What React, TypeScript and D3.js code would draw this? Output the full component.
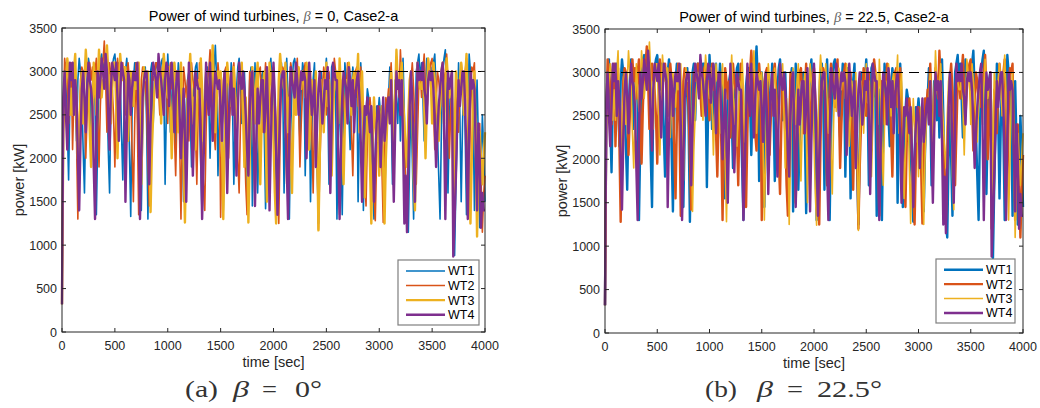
import React from "react";
import * as d3 from "d3";

const TIME: number[] = d3.range(0, 4000.1, 12.5);
const X_TICKS = [0, 500, 1000, 1500, 2000, 2500, 3000, 3500, 4000];
const Y_TICKS = [0, 500, 1000, 1500, 2000, 2500, 3000, 3500];
const RATED = 3000;
const NAMES = ["WT1", "WT2", "WT3", "WT4"];
const COLORS = ["#0072BD", "#D95319", "#EDB120", "#7E2F8E"];

// Panel (a) beta = 0 (one value every 12.5 s)
const A_WT1 = [
  320, 2600, 2900, 3100, 2400, 1750, 2700, 3050, 2950, 3100, 2800, 2200, 2900, 3150, 3000, 2700,
  2100, 1600, 2500, 2900, 3150, 3050, 2300, 2800, 3000, 2600, 1350, 2200, 2900, 3150, 3200, 3000,
  3100, 2950, 2800, 2100, 1600, 2700, 3050, 3150, 3200, 3000, 2850, 3100, 2950, 2300, 1750, 2600,
  3000, 3150, 2900, 2100, 1330, 2500, 2900, 3100, 3100, 2900, 2600, 2000, 1400, 2300, 2900, 3050,
  2400, 1300, 2200, 3000, 3100, 2400, 2900, 3100, 3050, 2950, 2900, 3100, 3150, 2800, 1700, 2600,
  3200, 2900, 2300, 2700, 3000, 3100, 2100, 2800, 3100, 2950, 2700, 2200, 1500, 2100, 2600, 2900,
  3000, 2500, 1900, 2600, 2900, 3050, 3100, 2800, 2500, 1900, 1320, 2200, 2800, 3000, 3050, 2700,
  2000, 2600, 3150, 3000, 3300, 2900, 1800, 2500, 3000, 2400, 1400, 2300, 2900, 3000, 2300, 2700,
  3100, 2600, 1700, 2400, 2800, 3050, 3150, 2900, 2400, 2800, 3000, 2500, 1500, 2200, 2900, 3050,
  1450, 2300, 3100, 2600, 1600, 2200, 2700, 2950, 3000, 2300, 1420, 2000, 2600, 3000, 3150, 2800,
  2900, 2200, 1300, 2100, 2700, 3000, 3100, 2800, 1600, 2500, 3150, 2700, 1300, 2300, 2800, 3100,
  3150, 3000, 2900, 2600, 2200, 2800, 3100, 3000, 1800, 2600, 3050, 2700, 1500, 2300, 2900, 3100,
  2300, 1900, 1250, 2200, 3000, 2800, 2600, 2900, 3150, 2700, 1700, 2500, 3050, 3100, 2900, 2700,
  1300, 2200, 2800, 2100, 1350, 2400, 3100, 2900, 2900, 2500, 2100, 2800, 3050, 2900, 2700, 3000,
  1500, 2400, 3100, 2700, 1400, 2200, 2500, 2800, 2700, 2400, 2000, 1700, 1300, 2000, 2600, 2500,
  2700, 2500, 2200, 1800, 1400, 2100, 2500, 2700, 3050, 2600, 1700, 2300, 2900, 2700, 2400, 2900,
  2200, 2700, 3150, 2500, 1600, 1300, 1150, 2000, 2600, 2000, 1300, 2300, 3000, 3100, 3200, 2900,
  3100, 2700, 2200, 2800, 3150, 3000, 2900, 3050, 2800, 3100, 3200, 2800, 2300, 1800, 1300, 2300,
  3000, 3150, 3250, 2500, 1600, 2400, 2900, 3000, 2200, 880, 1700, 2300, 3100, 2500, 1500, 2400,
  3000, 2300, 1350, 2400, 3200, 3000, 2800, 2500, 1400, 2300, 2900, 2200, 1200, 1800, 2500, 2100,
  1500];
const A_WT2 = [
  320, 2500, 3150, 3000, 2900, 2400, 2900, 3100, 2100, 2700, 3050, 2200, 1300, 2300, 2900, 3050,
  3000, 2600, 2000, 2500, 2800, 3100, 2900, 3050, 2700, 3000, 3150, 2500, 1900, 2600, 3000, 3100,
  3350, 2900, 2300, 2800, 3100, 2950, 2800, 2500, 1900, 2600, 3150, 3000, 2900, 3050, 3100, 2800,
  2500, 2900, 3100, 2900, 2700, 2100, 1500, 2400, 3100, 2400, 1350, 2200, 2900, 3050, 3000, 2900,
  2600, 2000, 1450, 2300, 3000, 2900, 2950, 3100, 3100, 2800, 2500, 2900, 3050, 3100, 2800, 2900,
  2400, 2900, 3100, 2800, 2800, 2300, 1800, 2500, 2900, 2200, 1300, 2300, 3050, 2900, 2700, 2900,
  2200, 2700, 3100, 2900, 2800, 2300, 1700, 2500, 3100, 2600, 2100, 1700, 1400, 2300, 2900, 3000,
  3250, 3000, 2700, 2300, 2100, 2700, 3100, 2900, 1320, 2200, 2900, 3000, 3050, 2600, 2000, 2500,
  2800, 3000, 3100, 2800, 2500, 2000, 1600, 2400, 3000, 2700, 2300, 1700, 1350, 2300, 3000, 2900,
  2900, 2200, 1500, 2200, 2800, 3000, 3050, 2700, 2300, 2800, 3100, 2500, 1900, 2400, 2700, 3000,
  3050, 2700, 2400, 1800, 1250, 2200, 2900, 3050, 3000, 2300, 1700, 2400, 2800, 3100, 3000, 2800,
  2600, 2900, 3150, 2600, 1900, 2400, 2800, 3000, 3100, 2800, 2400, 2700, 3000, 2300, 1600, 2500,
  2900, 2100, 1180, 1900, 2400, 2800, 3050, 2900, 2500, 2800, 3000, 2600, 2100, 2700, 3150, 3000,
  2700, 2100, 1350, 2200, 2900, 2700, 2400, 2800, 3100, 2900, 2800, 2300, 1800, 2500, 3000, 3050,
  2600, 2900, 3050, 2600, 2200, 1800, 1450, 2200, 2400, 2700, 2500, 2000, 1600, 1280, 2000, 2500,
  2600, 2400, 1900, 1260, 2000, 2700, 2600, 2800, 2800, 3100, 2600, 2000, 2500, 3050, 2900, 2700,
  3250, 2900, 2500, 2100, 1800, 1300, 2000, 2600, 2900, 3100, 2800, 2400, 1700, 2300, 2900, 3000,
  2700, 3000, 3200, 2800, 2500, 2800, 3000, 3100, 3150, 2600, 2100, 2600, 3000, 2900, 2700, 2900,
  2600, 2900, 3000, 3200, 2800, 2000, 2500, 3000, 1200, 2000, 2800, 2500, 2300, 2800, 3100, 2900,
  2700, 3000, 3150, 2400, 1700, 2500, 3050, 3000, 3100, 2200, 1300, 2000, 2400, 1800, 1150, 1600,
  1800];
const A_WT3 = [
  320, 2300, 2700, 2900, 3150, 3000, 2500, 2800, 2500, 3000, 3200, 2600, 2000, 2400, 2700, 3000,
  2400, 2900, 3250, 3000, 2900, 2300, 1900, 2500, 3100, 2800, 2500, 2900, 3250, 3000, 2700, 2900,
  2900, 3100, 3300, 3000, 2700, 2400, 2800, 3100, 3100, 2600, 2000, 2700, 3200, 3000, 2900, 3050,
  3050, 2600, 2200, 2700, 3000, 2800, 2600, 2900, 2800, 3000, 3100, 2400, 1700, 2500, 3050, 2900,
  2900, 3000, 2300, 1380, 2100, 2500, 2800, 3000, 2800, 3100, 2900, 2400, 2900, 3200, 3000, 2800,
  2700, 3050, 2600, 2000, 2600, 3100, 2900, 3000, 2300, 2800, 3100, 2600, 2000, 1260, 2100, 2700,
  2900, 3200, 2800, 2400, 2700, 2100, 2500, 2900, 2700, 3150, 2800, 2200, 2600, 3000, 2900, 2800,
  2600, 3000, 3300, 2800, 2300, 2700, 3000, 2900, 3000, 2200, 1300, 2100, 2700, 3100, 2900, 2800,
  2600, 2900, 3050, 2600, 2200, 2700, 3000, 2900, 3100, 2500, 1900, 2700, 2300, 1260, 2000, 2700,
  3050, 2800, 2400, 2900, 3100, 2400, 1700, 2400, 2800, 3000, 2400, 1500, 2300, 3100, 2900, 2800,
  2200, 1600, 1250, 2100, 2900, 3200, 3000, 2900, 2800, 3100, 2700, 2300, 2700, 2100, 1600, 2400,
  3000, 2500, 2800, 3050, 2900, 2800, 3000, 2900, 2700, 3100, 2800, 2100, 2500, 2900, 2700, 2500,
  3000, 2200, 1170, 2000, 2900, 2700, 2300, 2700, 3100, 2600, 2900, 2500, 1800, 2400, 2900, 3000,
  3000, 2400, 3150, 2800, 2200, 1700, 2400, 2900, 2700, 3100, 2900, 2500, 2900, 3000, 2800, 2900,
  3200, 2300, 2800, 3000, 2400, 1550, 2100, 2600, 2600, 1900, 1250, 2100, 2700, 2400, 2200, 2500,
  1800, 2300, 2600, 1900, 1250, 2000, 2400, 2600, 2700, 3000, 2600, 2200, 2700, 3250, 2900, 2800,
  2900, 3100, 2700, 2400, 2100, 1900, 2500, 2900, 3000, 2500, 1800, 1400, 2300, 3100, 2900, 2800,
  2800, 3000, 2600, 2000, 2600, 3150, 3000, 2900, 2400, 3100, 2900, 2700, 2500, 2200, 2600, 3000,
  3100, 2400, 2800, 3150, 2900, 2700, 2800, 3000, 1300, 2200, 3000, 2800, 2600, 2900, 3100, 2900,
  2500, 2900, 3200, 2700, 2000, 1250, 2000, 2700, 3000, 2200, 1100, 1800, 2300, 2000, 1700, 2000,
  2300];
const A_WT4 = [
  320, 2700, 3000, 2500, 2100, 2600, 3100, 2900, 3100, 2500, 2900, 2700, 2000, 1400, 2200, 2800,
  3000, 2700, 2300, 2800, 3100, 2900, 2800, 2600, 1900, 1300, 2300, 3000, 2700, 2900, 3150, 3000,
  2800, 3200, 3000, 2500, 2100, 2800, 3100, 3000, 2900, 3100, 2700, 2200, 2700, 3100, 3000, 2900,
  1500, 2300, 3000, 2900, 2500, 2800, 3000, 2900, 2900, 3100, 2400, 1300, 2000, 2700, 2900, 3000,
  3000, 2500, 1700, 2400, 2800, 3100, 3000, 2900, 2700, 3200, 3000, 2900, 2700, 2500, 2900, 3100,
  3050, 2600, 2900, 3100, 2800, 2300, 2700, 3000, 3000, 2500, 2000, 2400, 2800, 2200, 1500, 2300,
  3100, 2700, 2400, 1800, 2400, 3000, 2900, 2800, 2800, 2200, 1300, 1900, 2500, 3100, 2700, 2500,
  3100, 2600, 2200, 2700, 3000, 2900, 2800, 2900, 2600, 2200, 2700, 3000, 2500, 1600, 2300, 2800,
  3000, 2500, 2800, 2300, 1800, 2500, 3100, 2900, 2800, 3000, 2800, 2500, 2100, 1800, 2500, 2900,
  3000, 2300, 1450, 2200, 2800, 2400, 2700, 2900, 2900, 2300, 2600, 3050, 2400, 1400, 2200, 2800,
  3100, 2700, 2100, 1350, 2000, 2600, 2900, 3000, 3000, 2400, 1900, 1300, 2200, 3050, 2900, 2800,
  2700, 3100, 2900, 2500, 2800, 3000, 2900, 3000, 2900, 2000, 2600, 3100, 2800, 2500, 2700, 2900,
  1900, 2400, 2800, 3000, 2700, 2400, 2600, 2900, 2800, 3050, 2500, 1600, 2400, 3100, 3000, 2900,
  2900, 2000, 1300, 2100, 2700, 3000, 2900, 2800, 2400, 3050, 2900, 2600, 2900, 2300, 2700, 2900,
  3000, 2700, 2200, 1500, 2100, 2600, 2500, 2700, 2500, 2300, 2600, 2100, 1500, 2000, 2400, 2600,
  2500, 1900, 2300, 2700, 2200, 2400, 2600, 2700, 2400, 2900, 2200, 1500, 2300, 3000, 2800, 2900,
  2500, 2900, 2200, 1250, 1800, 1150, 1900, 2600, 3000, 2700, 2100, 1500, 2400, 3100, 2900, 3000,
  2900, 3100, 2800, 2700, 2400, 2900, 3000, 2900, 3000, 2800, 2400, 1900, 2300, 2600, 2800, 3000,
  3100, 2400, 1300, 2200, 3000, 2800, 2900, 3000, 870, 1300, 1800, 2400, 2900, 2600, 2800, 3000,
  3000, 2600, 2000, 1300, 2300, 3000, 2800, 2900, 2800, 2100, 1400, 2400, 2000, 1200, 1600, 1400,
  1400];

// Panel (b) beta = 22.5 (one value every 12.5 s)
const B_WT1 = [
  320, 2550, 2950, 3150, 2450, 1850, 2700, 3050, 2950, 3100, 2850, 2150, 2900, 3150, 3000, 2700,
  2150, 1650, 2500, 2900, 3150, 3050, 2350, 2800, 3000, 2600, 1300, 2200, 2950, 3150, 3200, 3000,
  3150, 2950, 2800, 2050, 1450, 2700, 3050, 3150, 3200, 3000, 2800, 3100, 2950, 2300, 1800, 2600,
  3000, 3150, 2900, 2100, 1400, 2500, 2900, 3100, 3050, 2900, 2600, 2000, 1450, 2300, 2950, 3050,
  2400, 1280, 2200, 3000, 3100, 2450, 2900, 3100, 3050, 2950, 2950, 3100, 3100, 2800, 1680, 2600,
  3200, 2900, 2350, 2700, 3000, 3100, 2150, 2800, 3100, 2950, 2700, 2200, 1550, 2100, 2650, 2900,
  3000, 2500, 1900, 2600, 2900, 3050, 3100, 2800, 2500, 1900, 1300, 2200, 2850, 3000, 3050, 2700,
  2050, 2600, 3150, 3000, 3300, 2900, 1750, 2500, 3000, 2400, 1450, 2300, 2900, 3000, 2300, 2700,
  3100, 2600, 1750, 2400, 2800, 3050, 3150, 2900, 2450, 2800, 3000, 2500, 1550, 2200, 2900, 3050,
  1400, 2300, 3100, 2600, 1650, 2200, 2700, 2950, 3000, 2300, 1380, 2000, 2650, 3000, 3150, 2800,
  2900, 2200, 1300, 2100, 2700, 3000, 3100, 2800, 1650, 2500, 3150, 2700, 1300, 2300, 2850, 3100,
  3150, 3000, 2900, 2600, 2250, 2800, 3100, 3000, 1800, 2600, 3050, 2700, 1550, 2300, 2900, 3100,
  2300, 1900, 1250, 2200, 3000, 2800, 2650, 2900, 3150, 2700, 1700, 2500, 3050, 3100, 2900, 2700,
  1350, 2200, 2800, 2100, 1300, 2400, 3100, 2900, 2900, 2500, 2150, 2800, 3050, 2900, 2700, 3000,
  1500, 2400, 3100, 2700, 1450, 2200, 2550, 2800, 2700, 2400, 2000, 1700, 1280, 2000, 2600, 2500,
  2700, 2500, 2250, 1800, 1400, 2100, 2500, 2700, 3050, 2600, 1700, 2300, 2900, 2700, 2450, 2900,
  2250, 2700, 3150, 2500, 1650, 1300, 1100, 2000, 2600, 2000, 1350, 2300, 3000, 3100, 3200, 2900,
  3100, 2700, 2250, 2800, 3150, 3000, 2900, 3050, 2800, 3100, 3250, 2800, 2300, 1800, 1300, 2300,
  3000, 3150, 3250, 2500, 1600, 2400, 2900, 3000, 2200, 860, 1700, 2350, 3100, 2500, 1550, 2400,
  3000, 2300, 1300, 2400, 3200, 3000, 2800, 2500, 1350, 2300, 2900, 2200, 1250, 1800, 2500, 2100,
  1450];
const B_WT2 = [
  320, 2450, 3150, 3000, 2850, 2400, 2900, 3100, 2150, 2700, 3050, 2200, 1280, 2300, 2900, 3050,
  3000, 2600, 2050, 2500, 2800, 3150, 2900, 3050, 2700, 3000, 3150, 2500, 1950, 2600, 3000, 3100,
  3300, 2900, 2350, 2800, 3100, 2950, 2800, 2500, 1950, 2600, 3150, 3000, 2900, 3050, 3100, 2800,
  2500, 2900, 3100, 2900, 2750, 2100, 1550, 2400, 3100, 2400, 1350, 2200, 2900, 3050, 3000, 2900,
  2600, 2000, 1420, 2300, 3000, 2900, 2950, 3100, 3100, 2800, 2500, 2900, 3050, 3100, 2800, 2900,
  2450, 2900, 3100, 2800, 2800, 2300, 1800, 2500, 2900, 2200, 1300, 2300, 3050, 2900, 2700, 2900,
  2250, 2700, 3100, 2900, 2800, 2300, 1700, 2500, 3100, 2600, 2150, 1700, 1450, 2300, 2900, 3000,
  3250, 3000, 2700, 2300, 2100, 2700, 3100, 2900, 1300, 2200, 2900, 3000, 3050, 2600, 2050, 2500,
  2800, 3000, 3100, 2800, 2500, 2000, 1600, 2400, 3000, 2700, 2300, 1700, 1350, 2300, 3000, 2900,
  2900, 2200, 1500, 2200, 2800, 3000, 3050, 2700, 2300, 2800, 3100, 2500, 1900, 2400, 2700, 3000,
  3050, 2700, 2400, 1800, 1250, 2200, 2900, 3050, 3000, 2300, 1700, 2400, 2800, 3100, 3000, 2800,
  2600, 2900, 3150, 2600, 1900, 2400, 2800, 3000, 3100, 2800, 2400, 2700, 3000, 2300, 1650, 2500,
  2900, 2100, 1200, 1900, 2400, 2800, 3050, 2900, 2500, 2800, 3000, 2600, 2100, 2700, 3150, 3000,
  2700, 2100, 1350, 2200, 2900, 2700, 2400, 2800, 3100, 2900, 2800, 2300, 1800, 2500, 3000, 3050,
  2600, 2900, 3050, 2600, 2200, 1800, 1450, 2200, 2400, 2700, 2500, 2000, 1600, 1250, 2000, 2500,
  2600, 2400, 1900, 1260, 2000, 2700, 2600, 2800, 2800, 3100, 2600, 2000, 2500, 3050, 2900, 2700,
  3250, 2900, 2500, 2100, 1800, 1300, 2000, 2600, 2900, 3100, 2800, 2400, 1700, 2300, 2900, 3000,
  2700, 3000, 3200, 2800, 2500, 2800, 3000, 3100, 3150, 2600, 2100, 2600, 3000, 2900, 2700, 2900,
  2600, 2900, 3000, 3200, 2800, 2000, 2500, 3000, 1200, 2000, 2800, 2500, 2300, 2800, 3100, 2900,
  2700, 3000, 3150, 2400, 1700, 2500, 3050, 3000, 3100, 2200, 1300, 2000, 2400, 1800, 1100, 1600,
  2050];
const B_WT3 = [
  320, 2350, 2700, 2900, 3100, 3000, 2450, 2800, 2450, 3000, 3250, 2600, 2050, 2400, 2700, 3000,
  2400, 2900, 3250, 3000, 2850, 2300, 1900, 2500, 3100, 2800, 2550, 2900, 3250, 3000, 2700, 2900,
  2900, 3100, 3350, 3000, 2700, 2350, 2800, 3100, 3100, 2600, 2050, 2700, 3200, 3000, 2900, 3050,
  3050, 2600, 2250, 2700, 3000, 2800, 2600, 2900, 2800, 3000, 3100, 2400, 1750, 2500, 3050, 2900,
  2900, 3000, 2300, 1400, 2100, 2500, 2800, 3000, 2800, 3100, 2900, 2450, 2900, 3200, 3000, 2800,
  2700, 3050, 2600, 2050, 2600, 3100, 2900, 3000, 2300, 2800, 3100, 2600, 2000, 1280, 2100, 2700,
  2900, 3200, 2800, 2400, 2700, 2150, 2500, 2900, 2700, 3150, 2800, 2200, 2600, 3000, 2900, 2800,
  2600, 3000, 3250, 2800, 2300, 2700, 3000, 2900, 3000, 2200, 1300, 2100, 2700, 3100, 2900, 2800,
  2650, 2900, 3050, 2600, 2200, 2700, 3000, 2900, 3100, 2500, 1900, 2700, 2300, 1250, 2000, 2700,
  3050, 2800, 2400, 2900, 3100, 2400, 1750, 2400, 2800, 3000, 2400, 1500, 2300, 3100, 2900, 2800,
  2200, 1600, 1240, 2100, 2900, 3200, 3000, 2900, 2800, 3100, 2700, 2300, 2700, 2100, 1600, 2400,
  3000, 2550, 2800, 3050, 2900, 2800, 3000, 2900, 2700, 3100, 2800, 2150, 2500, 2900, 2700, 2500,
  3000, 2200, 1180, 2000, 2900, 2700, 2300, 2700, 3100, 2650, 2900, 2500, 1800, 2400, 2900, 3000,
  3000, 2400, 3150, 2800, 2200, 1700, 2400, 2900, 2700, 3100, 2900, 2500, 2900, 3000, 2800, 2900,
  3200, 2300, 2800, 3000, 2400, 1550, 2100, 2600, 2600, 1900, 1260, 2100, 2700, 2400, 2200, 2500,
  1800, 2300, 2600, 1900, 1250, 2000, 2450, 2600, 2700, 3000, 2600, 2200, 2700, 3250, 2900, 2800,
  2900, 3100, 2700, 2400, 2100, 1900, 2500, 2900, 3000, 2500, 1800, 1420, 2300, 3100, 2900, 2800,
  2800, 3000, 2600, 2050, 2600, 3150, 3000, 2900, 2400, 3100, 2900, 2700, 2500, 2200, 2600, 3000,
  3100, 2400, 2800, 3150, 2900, 2700, 2800, 3000, 1300, 2200, 3000, 2800, 2600, 2900, 3100, 2900,
  2500, 2900, 3200, 2700, 2000, 1300, 2000, 2700, 3000, 2200, 1100, 1800, 2300, 2000, 1700, 2000,
  2300];
const B_WT4 = [
  320, 2650, 3000, 2500, 2150, 2600, 3100, 2900, 3100, 2500, 2900, 2700, 2000, 1420, 2200, 2800,
  3000, 2700, 2300, 2800, 3100, 2900, 2800, 2600, 1900, 1300, 2300, 3000, 2700, 2900, 3150, 3000,
  2800, 3250, 3000, 2500, 2100, 2800, 3100, 3000, 2900, 3100, 2700, 2250, 2700, 3100, 3000, 2900,
  1450, 2300, 3000, 2900, 2500, 2800, 3000, 2900, 2900, 3100, 2400, 1300, 2000, 2700, 2900, 3000,
  3000, 2500, 1700, 2400, 2800, 3100, 3000, 2900, 2700, 3200, 3000, 2900, 2700, 2500, 2900, 3100,
  3050, 2650, 2900, 3100, 2800, 2300, 2700, 3000, 3000, 2500, 2000, 2400, 2800, 2200, 1500, 2300,
  3100, 2700, 2400, 1850, 2400, 3000, 2900, 2800, 2800, 2200, 1300, 1900, 2500, 3100, 2700, 2500,
  3100, 2600, 2250, 2700, 3000, 2900, 2800, 2900, 2600, 2200, 2700, 3000, 2500, 1600, 2300, 2800,
  3000, 2500, 2800, 2300, 1800, 2500, 3100, 2900, 2800, 3000, 2800, 2500, 2100, 1800, 2500, 2900,
  3000, 2300, 1450, 2200, 2800, 2400, 2700, 2900, 2900, 2300, 2600, 3050, 2400, 1400, 2200, 2800,
  3100, 2700, 2100, 1350, 2000, 2600, 2900, 3000, 3000, 2400, 1900, 1300, 2200, 3050, 2900, 2800,
  2700, 3100, 2900, 2500, 2800, 3000, 2900, 3000, 2900, 2050, 2600, 3100, 2800, 2500, 2700, 2900,
  1900, 2400, 2800, 3000, 2700, 2400, 2600, 2900, 2800, 3050, 2500, 1600, 2400, 3100, 3000, 2900,
  2900, 2000, 1300, 2100, 2700, 3000, 2900, 2800, 2400, 3050, 2900, 2600, 2900, 2300, 2700, 2900,
  3000, 2700, 2200, 1500, 2100, 2600, 2500, 2700, 2500, 2300, 2600, 2100, 1450, 2000, 2400, 2600,
  2500, 1900, 2300, 2700, 2200, 2400, 2600, 2700, 2400, 2900, 2200, 1500, 2300, 3000, 2800, 2900,
  2500, 2900, 2200, 1250, 1800, 1150, 1900, 2600, 3000, 2700, 2100, 1500, 2400, 3100, 2900, 3000,
  2900, 3100, 2800, 2700, 2400, 2900, 3000, 2900, 3000, 2800, 2400, 1900, 2300, 2600, 2800, 3000,
  3100, 2400, 1300, 2200, 3000, 2800, 2900, 3000, 880, 1300, 1800, 2400, 2900, 2600, 2800, 3000,
  3000, 2600, 2000, 1300, 2300, 3000, 2800, 2900, 2800, 2100, 1400, 2400, 2000, 1200, 1600, 1350,
  1350];

type Piece = { s: string; x0: number; x1: number; italic?: boolean };

const CAPTION_A: Piece[] = [
  { s: "(a)", x0: 185, x1: 218 },
  { s: "β", x0: 233, x1: 249, italic: true },
  { s: "=", x0: 262, x1: 277 },
  { s: "0°", x0: 295, x1: 322 },
];
const CAPTION_B: Piece[] = [
  { s: "(b)", x0: 705, x1: 737 },
  { s: "β", x0: 757, x1: 773, italic: true },
  { s: "=", x0: 787, x1: 803 },
  { s: "22.5°", x0: 817, x1: 882 },
];

type PanelProps = {
  left: number; right: number; top: number; bottom: number;
  betaText: string; caption: Piece[];
  series: number[][]; widths: number[];
  legend: { x: number; y: number; w: number; h: number };
};

const FONT = "Liberation Sans, Arial, Helvetica, sans-serif";
const SERIF = "Liberation Serif, Times New Roman, serif";
const AXIS = "#262626";

function Panel(p: PanelProps) {
  const x = d3.scaleLinear().domain([0, 4000]).range([p.left, p.right]);
  const y = d3.scaleLinear().domain([0, 3500]).range([p.bottom, p.top]);
  const line = d3.line<number>().x((_, i) => x(TIME[i])).y((d) => y(d));
  const cx = (p.left + p.right) / 2;
  const cy = (p.top + p.bottom) / 2;
  const tl = 4;
  const L = p.legend;
  const rowH = L.h / 4.45;
  return (
    <g>
      {p.series.map((s, k) => (
        <path key={k} d={line(s) || ""} fill="none" stroke={COLORS[k]} strokeWidth={p.widths[k]} strokeLinejoin="round" />
      ))}
      <line x1={x(0)} x2={x(4000)} y1={y(RATED)} y2={y(RATED)} stroke="#000" strokeWidth={1.1} strokeDasharray="10,6" />
      <rect x={p.left} y={p.top} width={p.right - p.left} height={p.bottom - p.top} fill="none" stroke={AXIS} strokeWidth={1} />
      {X_TICKS.map((t) => (
        <g key={"x" + t}>
          <line x1={x(t)} x2={x(t)} y1={p.bottom} y2={p.bottom - tl} stroke={AXIS} />
          <line x1={x(t)} x2={x(t)} y1={p.top} y2={p.top + tl} stroke={AXIS} />
          <text x={x(t)} y={p.bottom + 18} textAnchor="middle" fontSize={12.5} fill={AXIS} fontFamily={FONT}>{t}</text>
        </g>
      ))}
      {Y_TICKS.map((t) => (
        <g key={"y" + t}>
          <line x1={p.left} x2={p.left + tl} y1={y(t)} y2={y(t)} stroke={AXIS} />
          <line x1={p.right} x2={p.right - tl} y1={y(t)} y2={y(t)} stroke={AXIS} />
          <text x={p.left - 5} y={y(t) + 4.5} textAnchor="end" fontSize={12.5} fill={AXIS} fontFamily={FONT}>{t}</text>
        </g>
      ))}
      <text x={cx} y={p.bottom + 35} textAnchor="middle" fontSize={14.5} fill={AXIS} fontFamily={FONT}>time [sec]</text>
      <text transform={`translate(${p.left - 38},${cy}) rotate(-90)`} textAnchor="middle" fontSize={14.5} fill={AXIS} fontFamily={FONT}>power [kW]</text>
      <text x={cx} y={p.top - 7} textAnchor="middle" fontSize={14.5} fill="#000" fontFamily={FONT}>
        Power of wind turbines, <tspan fontStyle="italic" fontFamily={SERIF} fill="#666">β</tspan> = {p.betaText}, Case2-a
      </text>
      <rect x={L.x} y={L.y} width={L.w} height={L.h} fill="#fff" stroke="#7f7f7f" strokeWidth={1.2} />
      {NAMES.map((n, k) => {
        const ry = L.y + rowH * (k + 0.75);
        return (
          <g key={n}>
            <line x1={L.x + 8} x2={L.x + 47} y1={ry} y2={ry} stroke={COLORS[k]} strokeWidth={p.widths[k]} />
            <text x={L.x + 50} y={ry + 4.5} fontSize={12.5} fill="#000" fontFamily={FONT}>{n}</text>
          </g>
        );
      })}
      {p.caption.map((c, i) => (
        <text key={i} x={c.x0} y={397} fontSize={23} fill="#333" fontFamily={SERIF}
          fontStyle={c.italic ? "italic" : "normal"} textLength={c.x1 - c.x0} lengthAdjust="spacingAndGlyphs">{c.s}</text>
      ))}
    </g>
  );
}

export default function App() {
  return (
    <div style={{ position: "absolute", left: 0, top: 0, width: 1040, height: 408, background: "#fff" }}>
      <svg width={1040} height={408} style={{ display: "block" }}>
        <rect width={1040} height={408} fill="#fff" />
        <Panel left={62} right={485} top={28} bottom={332} betaText="0" caption={CAPTION_A}
          series={[A_WT1, A_WT2, A_WT3, A_WT4]} widths={[1.6, 1.6, 2.4, 2.4]}
          legend={{ x: 398, y: 260, w: 81, h: 65 }} />
        <Panel left={605} right={1023} top={29} bottom={333} betaText="22.5" caption={CAPTION_B}
          series={[B_WT1, B_WT2, B_WT3, B_WT4]} widths={[2.4, 2.4, 1.6, 2.4]}
          legend={{ x: 936, y: 259, w: 79, h: 64 }} />
      </svg>
    </div>
  );
}
